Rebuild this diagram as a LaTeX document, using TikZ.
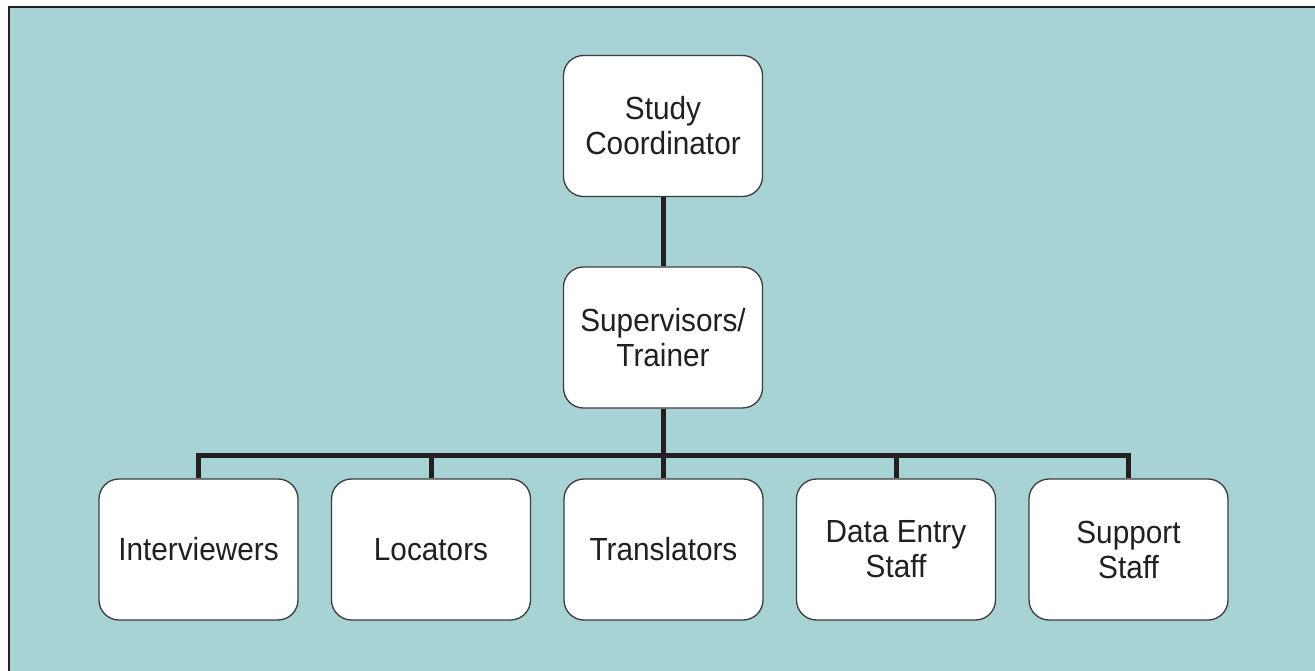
\documentclass[tikz,border=0pt]{standalone}
\usepackage{fontspec}
\setmainfont[FakeStretch=0.93]{Liberation Sans}
\definecolor{teal1}{RGB}{167,211,212}
\definecolor{ink}{RGB}{35,31,32}
\definecolor{edge}{RGB}{60,60,60}
\begin{document}
\begin{tikzpicture}[x=1pt,y=1pt,
  box/.style={draw=edge, line width=1.3pt, fill=white, rounded corners=20pt,
    minimum width=199pt, minimum height=141pt, align=center, inner sep=0pt,
    text=ink, font=\fontsize{32}{35}\selectfont},
  conn/.style={draw=ink, line width=5pt}]
\useasboundingbox (0,0) rectangle (1315,-671);
\fill[white] (0,0) rectangle (1315,-671);
\fill[teal1] (8,-7) rectangle (1315,-671);
\draw[ink, line width=2pt] (8.5,-671) -- (8.5,-7.5) -- (1315,-7.5);

\node[box] (sc) at (663,-126) {Study\\Coordinator};
\node[box] (sup) at (663,-337.5) {Supervisors/\\Trainer};
\node[box] (iv) at (198.5,-549.5) {Interviewers};
\node[box] (lo) at (431,-549.5) {Locators};
\node[box] (tr) at (663.5,-549.5) {Translators};
\node[box] (de) at (896,-549.5) {Data Entry\\Staff};
\node[box] (ss) at (1128.5,-549.5) {Support\\Staff};

\coordinate (hub) at (663,-455);
\draw[conn] (sc.south) -- (sup.north);
\draw[conn] (sup.south) -- (hub);
\draw[conn] (iv.north) |- (hub) -| (ss.north);
\draw[conn] (lo.north) -- (lo.north |- hub);
\draw[conn] (tr.north) -- (tr.north |- hub);
\draw[conn] (de.north) -- (de.north |- hub);
\end{tikzpicture}
\end{document}
